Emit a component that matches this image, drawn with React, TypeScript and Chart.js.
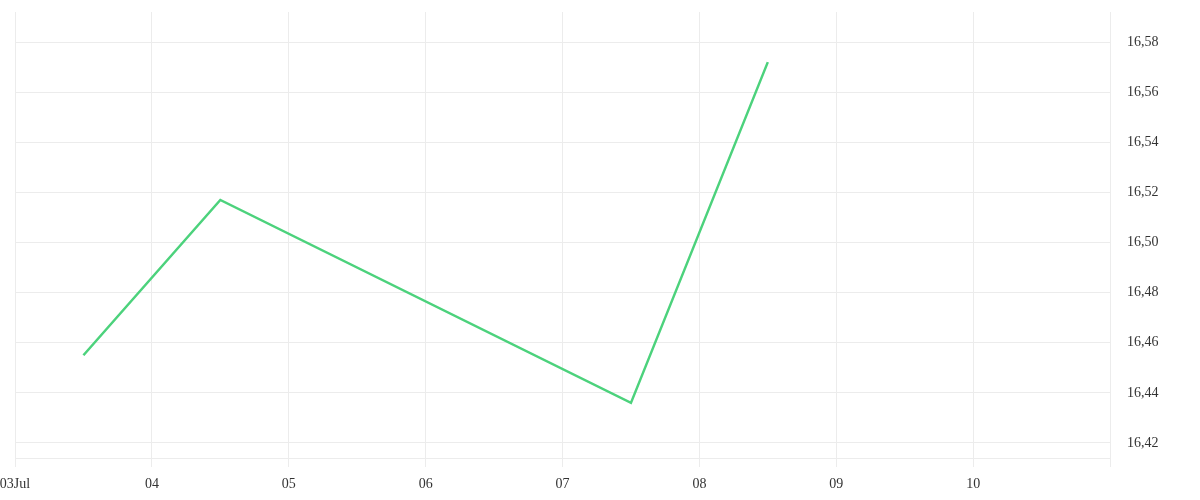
import React, { useEffect, useRef } from "react";
import { Chart, registerables } from "chart.js";

Chart.register(...registerables);

const xValues = [3.5, 4.5, 7.5, 8.5];
const yValues = [16.455, 16.517, 16.436, 16.572];
const dayLabels: Record<number, string> = { 3: "03Jul", 4: "04", 5: "05", 6: "06", 7: "07", 8: "08", 9: "09", 10: "10", 11: "" };
const yMin = 16.414;
const yMax = 16.592;

export default function App() {
  const ref = useRef<HTMLCanvasElement | null>(null);
  useEffect(() => {
    document.body.style.margin = "0";
    const ctx = ref.current!;
    const chart = new Chart(ctx, {
      type: "line",
      data: {
        datasets: [
          {
            data: xValues.map((x, i) => ({ x, y: yValues[i] })),
            borderColor: "#4cd27c",
            borderWidth: 2.5,
            pointRadius: 0,
            tension: 0,
            fill: false,
          },
        ],
      },
      options: {
        animation: false,
        responsive: false,
        layout: { padding: { top: 12, left: 15, right: 0, bottom: 0 } },
        plugins: { legend: { display: false }, tooltip: { enabled: false } },
        scales: {
          x: {
            type: "linear",
            min: 3,
            max: 11,
            grid: { color: "#ececec", tickLength: 9, lineWidth: 1 },
            border: { display: true, color: "#ececec" },
            ticks: {
              stepSize: 1,
              autoSkip: false,
              maxRotation: 0,
              padding: 9,
              color: "#333",
              font: { family: "serif", size: 14 },
              callback: (v: any) => dayLabels[Number(v)] ?? "",
            },
            afterFit: (s: any) => {
              s.height = 42;
              s.paddingLeft = 0;
              s.paddingRight = 0;
            },
          },
          y: {
            type: "linear",
            position: "right",
            min: yMin,
            max: yMax,
            grid: { color: "#ececec", drawTicks: false },
            border: { display: true, color: "#ececec" },
            ticks: {
              stepSize: 0.02,
              includeBounds: false,
              padding: 17,
              color: "#333",
              font: { family: "serif", size: 14 },
              callback: (v: any) => Number(v).toFixed(2).replace(".", ","),
            },
            afterFit: (s: any) => {
              s.width = 90;
              s.paddingTop = 0;
              s.paddingBottom = 0;
            },
          },
        },
      },
    });
    return () => chart.destroy();
  }, []);
  return (
    <div style={{ width: 1200, height: 500 }}>
      <canvas ref={ref} width={1200} height={500} />
    </div>
  );
}
